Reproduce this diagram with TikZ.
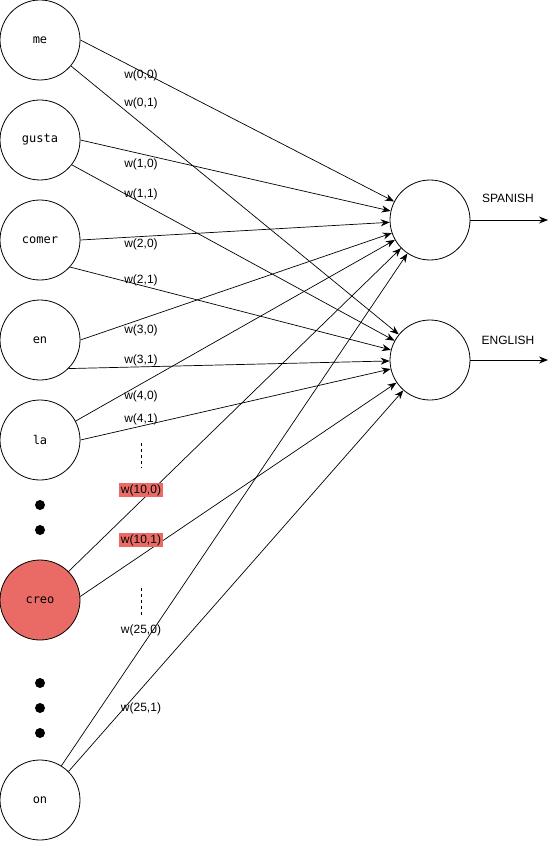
\documentclass[tikz,border=0pt]{standalone}
\usepackage{fontspec}
\setmainfont{Liberation Sans}
\newfontfamily\wordfont{DejaVu Sans Mono}
\usetikzlibrary{arrows.meta}
\definecolor{creored}{RGB}{234,107,102}

\begin{document}
\begin{tikzpicture}[x=1pt,y=-1pt,
  word/.style={circle,draw,line width=0.8pt,minimum size=80pt,inner sep=0pt,font=\wordfont\fontsize{12}{14}\selectfont},
  lang/.style={circle,draw,line width=0.8pt,minimum size=80pt,inner sep=0pt},
  wlab/.style={font=\fontsize{12}{14}\selectfont,inner sep=1.5pt},
  wbox/.style={wlab,fill=creored},
  conn/.style={-{Stealth[length=9pt,width=7pt]},line width=0.7pt},
  bullet/.style={circle,fill,minimum size=10pt,inner sep=0pt}]
\useasboundingbox (0,0) rectangle (559,842);
\node[word] (me) at (40,40) {me};
\node[word] (gusta) at (40,140) {gusta};
\node[word] (comer) at (40,240) {comer};
\node[word] (en) at (40,340) {en};
\node[word] (la) at (40,440) {la};
\node[word,fill=creored] (creo) at (40,600) {creo};
\node[word] (on) at (40,800) {on};
\node[bullet] (d1) at (40,505) {};
\node[bullet] (d2) at (40,530) {};
\node[bullet] (d3) at (40,683) {};
\node[bullet] (d4) at (40,708) {};
\node[bullet] (d5) at (40,733) {};
\node[lang] (s) at (430,220) {};
\node[lang] (e) at (430,360) {};
\node[wlab] (spanish) at (508,198) {SPANISH};
\node[wlab] (english) at (508,340) {ENGLISH};
\coordinate (sout) at (548,220);
\coordinate (eout) at (548,360);
\draw[conn] (s) -- (sout);
\draw[conn] (e) -- (eout);
\draw[conn] (me.east) -- (s);
\draw[conn] (me.-40) -- (e);
\draw[conn] (gusta.east) -- (s);
\draw[conn] (gusta.-38) -- (e);
\draw[conn] (comer.east) -- (s);
\draw[conn] (comer.-42) -- (e);
\draw[conn] (en.east) -- (s);
\draw[conn] (en.-45) -- (e);
\draw[conn] (la.28) -- (s);
\draw[conn] (la.east) -- (e);
\draw[conn] (creo.45) -- (s);
\draw[conn] (creo.5) -- (e);
\draw[conn] (on.58) -- (s);
\draw[conn] (on.45) -- (e);
\node[wlab] (w00) at (141,75) {w(0,0)};
\node[wlab] (w01) at (141,103) {w(0,1)};
\node[wlab] (w10) at (141,164) {w(1,0)};
\node[wlab] (w11) at (141,194) {w(1,1)};
\node[wlab] (w20) at (141,244) {w(2,0)};
\node[wlab] (w21) at (141,280) {w(2,1)};
\node[wlab] (w30) at (141,330) {w(3,0)};
\node[wlab] (w31) at (141,360) {w(3,1)};
\node[wlab] (w40) at (141,396) {w(4,0)};
\node[wlab] (w41) at (141,419) {w(4,1)};
\node[wbox] (w100) at (141,490) {w(10,0)};
\node[wbox] (w101) at (141,540) {w(10,1)};
\node[wlab] (w250) at (141,630) {w(25,0)};
\node[wlab] (w251) at (141,708) {w(25,1)};
\draw[dashed,line width=0.7pt] (141,443) -- (141,468);
\draw[dashed,line width=0.7pt] (141,588) -- (141,615);
\end{tikzpicture}
\end{document}
